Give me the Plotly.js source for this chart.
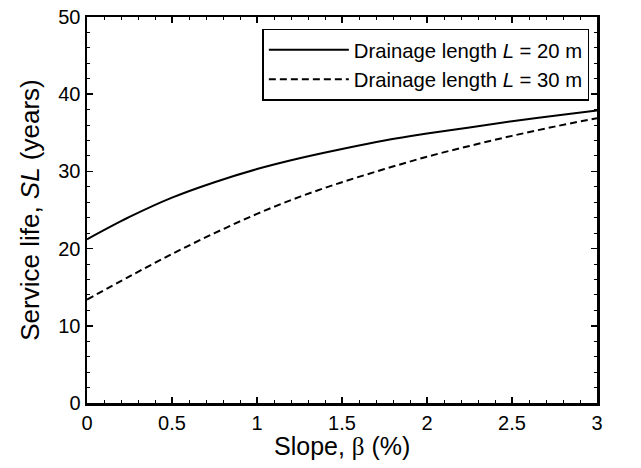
<!DOCTYPE html>
<html>
<head>
<meta charset="utf-8">
<script src="https://cdn.plot.ly/plotly-3.0.1.min.js"></script>
<style>html,body{margin:0;padding:0;background:#fff;}#chart{width:641px;height:468px;}</style>
</head>
<body>
<div id="chart"></div>
<script>
var slope = [0, 0.25, 0.5, 0.75, 1, 1.25, 1.5, 1.75, 2, 2.25, 2.5, 2.75, 3];
var life20 = [21.2, 24.1, 26.6, 28.6, 30.3, 31.7, 32.9, 34.0, 34.9, 35.7, 36.5, 37.2, 37.9];
var life30 = [13.4, 16.4, 19.3, 22.0, 24.5, 26.7, 28.6, 30.3, 31.9, 33.3, 34.6, 35.8, 36.9];
var names = ['Drainage length <i>L</i> = 20 m', 'Drainage length <i>L</i> = 30 m'];
var xTicks = [0, 0.5, 1, 1.5, 2, 2.5, 3];
var xTickText = ['0', '0.5', '1', '1.5', '2', '2.5', '3'];
var yTicks = [0, 10, 20, 30, 40, 50];
var xTitle = 'Slope, <span style="font-family:Liberation Serif, Times New Roman, serif">β</span> (%)';
var yTitle = 'Service life, <i>SL</i> (years)';

var traces = [
  {x: slope, y: life20, name: names[0], mode: 'lines', type: 'scatter',
   line: {color: '#000', width: 2, shape: 'spline'}},
  {x: slope, y: life30, name: names[1], mode: 'lines', type: 'scatter',
   line: {color: '#000', width: 2, dash: '7px,4px', shape: 'spline'}}
];

var font = {family: 'Liberation Sans, Arial, sans-serif', color: '#000'};
var layout = {
  width: 641, height: 468,
  margin: {l: 87, r: 44, t: 17, b: 65},
  paper_bgcolor: '#fff', plot_bgcolor: '#fff',
  font: font,
  showlegend: true,
  legend: {
    x: 0.985, y: 0.97, xanchor: 'right', yanchor: 'top',
    bgcolor: '#fff', bordercolor: '#000', borderwidth: 1.5,
    font: {family: font.family, size: 20.3, color: '#000'},
    itemwidth: 80, traceorder: 'normal'
  },
  xaxis: {
    range: [0, 3], tickvals: xTicks, ticktext: xTickText,
    ticks: 'inside', ticklen: 6, tickwidth: 1.5, tickcolor: '#000',
    minor: {dtick: 0.1, ticks: 'inside', ticklen: 3, tickwidth: 1, tickcolor: '#000'},
    showline: true, linecolor: '#000', linewidth: 2.5, mirror: 'ticks',
    showgrid: false, zeroline: false,
    tickfont: {family: font.family, size: 20, color: '#000'}
  },
  yaxis: {
    range: [0, 50], tickvals: yTicks,
    ticks: 'inside', ticklen: 6, tickwidth: 1.5, tickcolor: '#000',
    minor: {dtick: 2, ticks: 'inside', ticklen: 3, tickwidth: 1, tickcolor: '#000'},
    showline: true, linecolor: '#000', linewidth: 2.5, mirror: 'ticks',
    showgrid: false, zeroline: false,
    tickfont: {family: font.family, size: 20, color: '#000'},
    title: {text: yTitle, font: {family: font.family, size: 26, color: '#000'}, standoff: 11}
  },
  annotations: [{
    text: xTitle, xref: 'paper', yref: 'paper', x: 0.5, y: -0.07,
    xanchor: 'center', yanchor: 'top', showarrow: false,
    font: {family: font.family, size: 25, color: '#000'}
  }]
};

Plotly.newPlot('chart', traces, layout, {displayModeBar: false, staticPlot: true});
</script>
</body>
</html>
